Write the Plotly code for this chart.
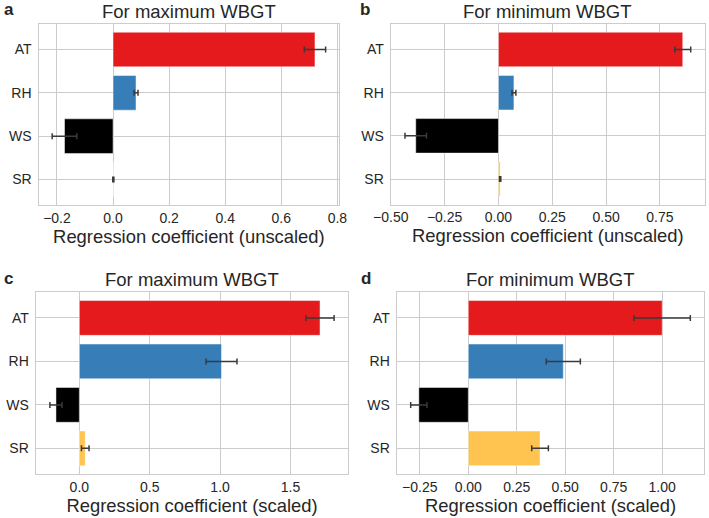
import plotly.graph_objects as go

# variables and colours (same order in every panel)
variables = ["AT", "RH", "WS", "SR"]
bar_colors = ["#e41a1c", "#377eb8", "#000000", "#fec44f"]

# a: maximum WBGT, unscaled
max_unscaled = [0.720, 0.082, -0.173, 0.001]
max_unscaled_err = [0.038, 0.007, 0.044, 0.002]
# b: minimum WBGT, unscaled
min_unscaled = [0.856, 0.072, -0.384, 0.008]
min_unscaled_err = [0.037, 0.009, 0.050, 0.003]
# c: maximum WBGT, scaled
max_scaled = [1.710, 1.010, -0.166, 0.042]
max_scaled_err = [0.100, 0.110, 0.043, 0.027]
# d: minimum WBGT, scaled
min_scaled = [1.000, 0.490, -0.255, 0.370]
min_scaled_err = [0.145, 0.088, 0.042, 0.043]

W, H = 709, 518
FONT = "Liberation Sans, Arial, sans-serif"
TXT = "#262626"
GRID = "#cccccc"

panels = [
    dict(letter="a", title="For maximum WBGT", xlabel="Regression coefficient (unscaled)",
         vals=max_unscaled, errs=max_unscaled_err, dtick=0.2, fmt=".1f",
         px=(38.5, 339.3), py=(24, 205), lx=2, ly=10),
    dict(letter="b", title="For minimum WBGT", xlabel="Regression coefficient (unscaled)",
         vals=min_unscaled, errs=min_unscaled_err, dtick=0.25, fmt=".2f",
         px=(390.7, 705), py=(24, 204.5), lx=358, ly=10),
    dict(letter="c", title="For maximum WBGT", xlabel="Regression coefficient (scaled)",
         vals=max_scaled, errs=max_scaled_err, dtick=0.5, fmt=".1f",
         px=(35.7, 348.3), py=(292.3, 474), lx=2, ly=278),
    dict(letter="d", title="For minimum WBGT", xlabel="Regression coefficient (scaled)",
         vals=min_scaled, errs=min_scaled_err, dtick=0.25, fmt=".2f",
         px=(396.7, 704.3), py=(292.3, 474), lx=359, ly=278),
]

fig = go.Figure()
annotations = []
layout = {}

for i, p in enumerate(panels, start=1):
    sfx = "" if i == 1 else str(i)
    fig.add_trace(go.Bar(
        x=p["vals"], y=variables, orientation="h", width=0.8,
        marker=dict(color=bar_colors, line=dict(color="rgba(255,255,255,0.6)", width=0.8)),
        error_x=dict(type="data", array=p["errs"], color="#3a3a3a", thickness=1.5, width=3),
        xaxis="x" + sfx, yaxis="y" + sfx, showlegend=False, hoverinfo="x+y",
    ))

    # matplotlib-like autoscale: data incl. error bars + 5% margins
    lo = min([0] + [v - e for v, e in zip(p["vals"], p["errs"])])
    hi = max([0] + [v + e for v, e in zip(p["vals"], p["errs"])])
    pad = 0.05 * (hi - lo)

    x0, x1 = p["px"][0] / W, p["px"][1] / W
    y0, y1 = 1 - p["py"][1] / H, 1 - p["py"][0] / H

    layout["xaxis" + sfx] = dict(
        domain=[x0, x1], anchor="y" + sfx, range=[lo - pad, hi + pad],
        dtick=p["dtick"], tick0=0, tickformat=p["fmt"], automargin=False,
        showgrid=True, gridcolor=GRID, gridwidth=1, zeroline=False,
        showline=True, linecolor=GRID, linewidth=1.2, mirror=True,
        ticks="", tickfont=dict(size=14, color=TXT, family=FONT),
        title=dict(text=p["xlabel"], font=dict(size=18.4, color=TXT, family=FONT), standoff=0),
    )
    layout["yaxis" + sfx] = dict(
        domain=[y0, y1], anchor="x" + sfx, type="category", automargin=False,
        categoryorder="array", categoryarray=variables, range=[3.59, -0.59],
        showgrid=True, gridcolor=GRID, gridwidth=1, zeroline=False,
        showline=True, linecolor=GRID, linewidth=1.2, mirror=True,
        ticks="", ticklabelstandoff=3, tickfont=dict(size=14, color=TXT, family=FONT),
    )

    annotations.append(dict(
        text=p["title"], x=(x0 + x1) / 2, y=y1, xref="paper", yref="paper",
        xanchor="center", yanchor="bottom", yshift=0, showarrow=False,
        font=dict(size=18.5, color=TXT, family=FONT),
    ))
    annotations.append(dict(
        text="<b>" + p["letter"] + "</b>", x=p["lx"] / W, y=1 - p["ly"] / H,
        xref="paper", yref="paper", xanchor="left", yanchor="middle",
        showarrow=False, font=dict(size=17, color=TXT, family=FONT),
    ))

fig.update_layout(
    width=W, height=H, margin=dict(l=0, r=0, t=0, b=0),
    paper_bgcolor="white", plot_bgcolor="white",
    annotations=annotations, bargap=0.2, **layout,
)

# drop the browser's default 8px body margin so the figure fills the window
fig.write_html("out.html", config={"displayModeBar": False},
               post_script="document.body.style.margin='0';")
